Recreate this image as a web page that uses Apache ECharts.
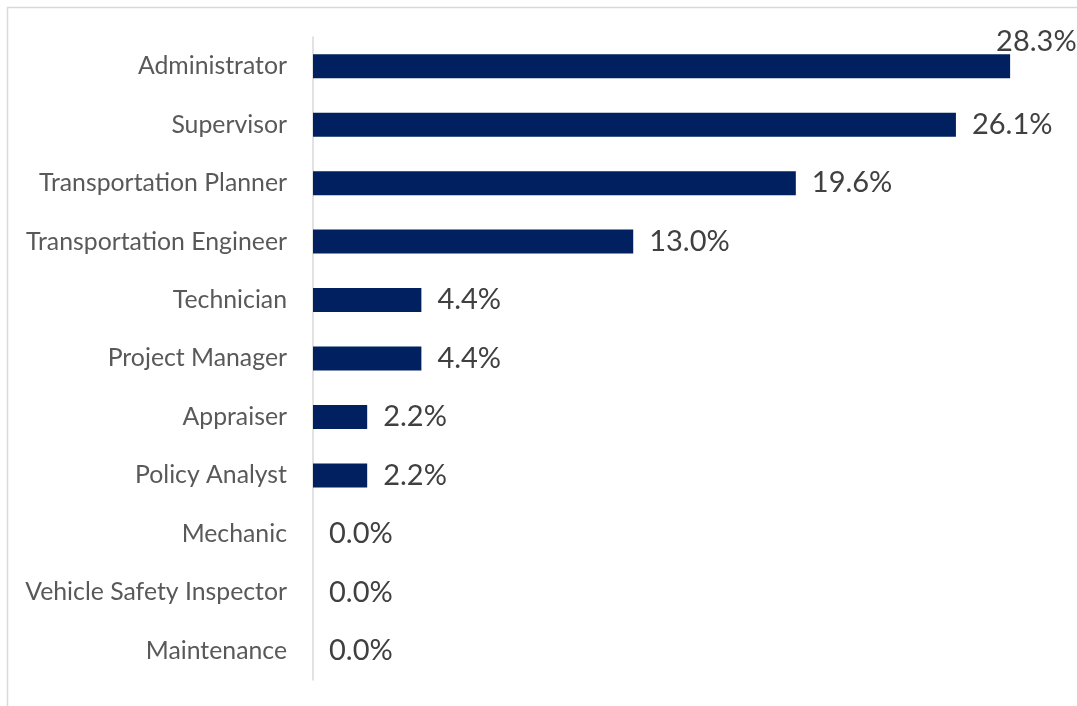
<!DOCTYPE html>
<html>
<head>
<meta charset="utf-8">
<script src="https://cdn.jsdelivr.net/npm/echarts@6/dist/echarts.min.js"></script>
<style>html,body{margin:0;padding:0;background:#fff;}#c{width:1077px;height:706px;}</style>
</head>
<body>
<div id="c"></div>
<script>
const categories = ["Administrator","Supervisor","Transportation Planner","Transportation Engineer","Technician","Project Manager","Appraiser","Policy Analyst","Mechanic","Vehicle Safety Inspector","Maintenance"];
const values = [28.3,26.1,19.6,13.0,4.4,4.4,2.2,2.2,0.0,0.0,0.0];

const chart = echarts.init(document.getElementById('c'), null, {renderer:'canvas'});
const data = values.map((v,i)=>{
  const d = {value:v};
  if (i===0) d.label = {offset:[-30,-25]};
  return d;
});
chart.setOption({
  animation:false,
  backgroundColor:'#fff',
  graphic:[{type:'rect', shape:{x:7.5,y:7.5,width:1200,height:800}, style:{fill:'none', stroke:'#d9d9d9', lineWidth:1.5}, silent:true}],
  grid:{left:313, right:25, top:37, bottom:26, containLabel:false},
  xAxis:{type:'value', min:0, max:30, show:false, splitLine:{show:false}},
  yAxis:{type:'category', data:categories, inverse:true,
    axisLine:{show:true, lineStyle:{color:'#d9d9d9', width:1.5}},
    axisTick:{show:false},
    axisLabel:{color:'#595959', fontFamily:'Lato', fontSize:24.8, margin:26}
  },
  series:[{type:'bar', data:data, barWidth:24, itemStyle:{color:'#002060'},
    label:{show:true, position:'right', distance:16, color:'#404040', fontFamily:'Lato', fontSize:29,
      formatter:p=>p.value.toFixed(1)+'%'}
  }]
});
</script>
</body>
</html>
